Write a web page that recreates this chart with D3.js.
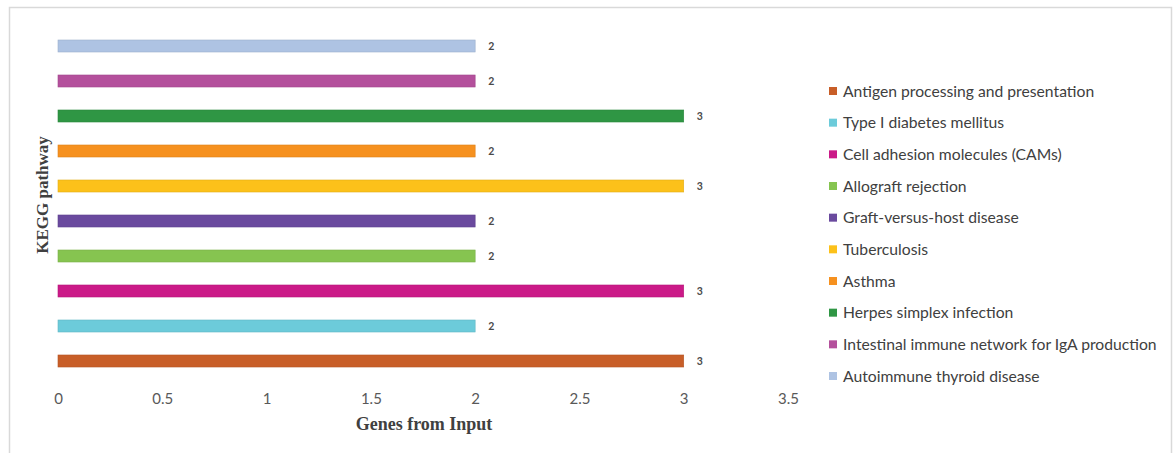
<!DOCTYPE html>
<html><head><meta charset="utf-8">
<script src="https://cdn.jsdelivr.net/npm/d3@7"></script>
<style>html,body{margin:0;padding:0;background:#fff}svg{display:block}</style>
</head><body>
<svg id="c" width="1176" height="453"></svg>
<script>
const categories = [
  "Antigen processing and presentation",
  "Type I diabetes mellitus",
  "Cell adhesion molecules (CAMs)",
  "Allograft rejection",
  "Graft-versus-host disease",
  "Tuberculosis",
  "Asthma",
  "Herpes simplex infection",
  "Intestinal immune network for IgA production",
  "Autoimmune thyroid disease"
];
const values = [3, 2, 3, 2, 2, 3, 2, 3, 2, 2];
const colors = ["#C85E28", "#6CCBDA", "#CB1A88", "#86C450", "#6A4A9E", "#FCC11A", "#F6911F", "#2F9644", "#B4509C", "#AEC3E3"];
const xTicks = [0, 0.5, 1, 1.5, 2, 2.5, 3, 3.5];
const xTitle = "Genes from Input";
const yTitle = "KEGG pathway";

const svg = d3.select("#c");
// frame
svg.append("rect").attr("x", 9.5).attr("y", 7.5).attr("width", 1162).attr("height", 460)
  .attr("fill", "#fff").attr("stroke", "#D9D9D9").attr("stroke-width", 1.5);

const x = d3.scaleLinear().domain([0, 3.5]).range([58, 788]);
const y = d3.scaleBand().domain(d3.range(categories.length)).range([378.5, 28.5])
  .paddingInner(0.657).paddingOuter(0.3285);

const g = svg.append("g");
g.selectAll("rect.bar").data(values).enter().append("rect").attr("class", "bar")
  .attr("x", x(0)).attr("y", (d, i) => y(i))
  .attr("width", d => x(d) - x(0)).attr("height", y.bandwidth())
  .attr("fill", (d, i) => colors[i])
  .attr("stroke", (d, i) => d3.color(colors[i]).darker(0.3)).attr("stroke-width", 0.6);

g.selectAll("text.val").data(values).enter().append("text").attr("class", "val")
  .attr("x", d => x(d) + 13).attr("y", (d, i) => y(i) + y.bandwidth() / 2)
  .attr("dy", "0.35em").attr("text-anchor", "start")
  .attr("font-family", "Lato, 'Open Sans', sans-serif").attr("font-size", 10.5).attr("font-weight", 700)
  .attr("fill", "#4a4a4a").text(d => d);

const ax = svg.append("g").attr("transform", "translate(0,393)")
  .call(d3.axisBottom(x).tickValues(xTicks).tickSize(0).tickPadding(0).tickFormat(d3.format("~g")));
ax.select(".domain").remove();
ax.selectAll("text").attr("font-family", "Lato, 'Open Sans', sans-serif").attr("font-size", 15)
  .attr("fill", "#595959").attr("dy", "0.75em");

svg.append("text").attr("x", 424).attr("y", 430).attr("text-anchor", "middle")
  .attr("font-family", "'Liberation Serif', 'Times New Roman', serif").attr("font-weight", 700)
  .attr("font-size", 18).attr("fill", "#404040").text(xTitle);

svg.append("text").attr("transform", "translate(48,195) rotate(-90)").attr("text-anchor", "middle")
  .attr("font-family", "'Liberation Serif', 'Times New Roman', serif").attr("font-weight", 700)
  .attr("font-size", 17).attr("fill", "#404040").text(yTitle);

// legend
const lg = svg.append("g");
const rowY = d3.scaleLinear().domain([0, categories.length - 1]).range([91, 376]);
const items = lg.selectAll("g").data(categories).enter().append("g")
  .attr("transform", (d, i) => `translate(829,${rowY(i)})`);
items.append("rect").attr("x", 0).attr("y", -4).attr("width", 8).attr("height", 8)
  .attr("fill", (d, i) => colors[i]);
items.append("text").attr("x", 14).attr("dy", "0.36em")
  .attr("font-family", "Lato, 'Open Sans', sans-serif").attr("font-size", 15.7)
  .attr("fill", "#404040").text(d => d);
</script>
</body></html>
